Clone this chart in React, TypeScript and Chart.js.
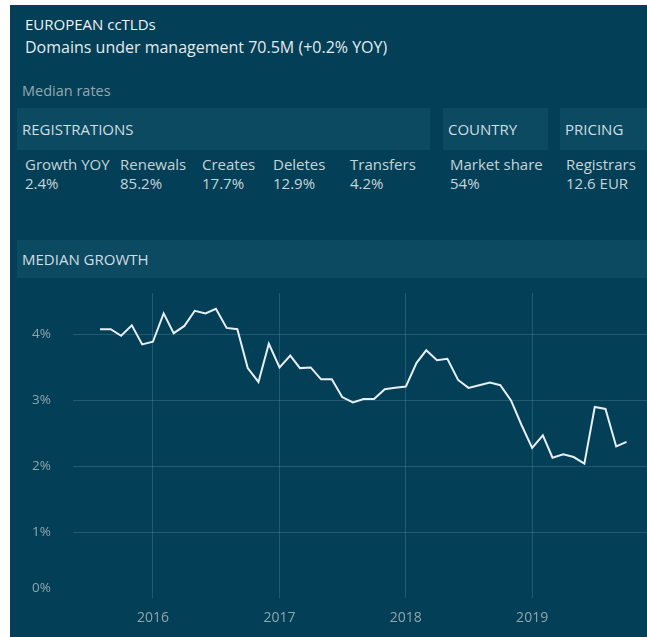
import React, { useEffect, useRef } from "react";
import { Chart, registerables } from "chart.js";

Chart.register(...registerables);

// ---- data ----
const months = [
  "2015-08", "2015-09", "2015-10", "2015-11", "2015-12",
  "2016-01", "2016-02", "2016-03", "2016-04", "2016-05", "2016-06",
  "2016-07", "2016-08", "2016-09", "2016-10", "2016-11", "2016-12",
  "2017-01", "2017-02", "2017-03", "2017-04", "2017-05", "2017-06",
  "2017-07", "2017-08", "2017-09", "2017-10", "2017-11", "2017-12",
  "2018-01", "2018-02", "2018-03", "2018-04", "2018-05", "2018-06",
  "2018-07", "2018-08", "2018-09", "2018-10", "2018-11", "2018-12",
  "2019-01", "2019-02", "2019-03", "2019-04", "2019-05", "2019-06",
  "2019-07", "2019-08", "2019-09", "2019-10",
];
const medianGrowth = [
  4.08, 4.08, 3.98, 4.14, 3.85,
  3.89, 4.32, 4.02, 4.13, 4.36, 4.32,
  4.39, 4.1, 4.08, 3.49, 3.28, 3.86,
  3.5, 3.68, 3.49, 3.5, 3.32, 3.32,
  3.05, 2.97, 3.02, 3.02, 3.17, 3.19,
  3.21, 3.57, 3.76, 3.61, 3.63, 3.31,
  3.19, 3.23, 3.27, 3.23, 3.0, 2.63,
  2.28, 2.47, 2.13, 2.18, 2.14, 2.04,
  2.9, 2.87, 2.3, 2.37,
];
const yTicks = [0, 1, 2, 3, 4];
const yearTicks = [2016, 2017, 2018, 2019];
const xStart = "2015-05-15";
const xEnd = "2019-11-29";
const yMax = 4.63;

const titleText = "EUROPEAN ccTLDs";
const subtitleText = "Domains under management 70.5M (+0.2% YOY)";
const medianRatesText = "Median rates";
const sectionHeaders = ["REGISTRATIONS", "COUNTRY", "PRICING"];
const kpiLabels = ["Growth YOY", "Renewals", "Creates", "Deletes", "Transfers", "Market share", "Registrars"];
const kpiValues = ["2.4%", "85.2%", "17.7%", "12.9%", "4.2%", "54%", "12.6 EUR"];
const chartHeader = "MEDIAN GROWTH";

// ---- styling / layout ----
const FONT = "'Open Sans', 'Noto Sans', sans-serif";
const BG = "#033f56";
const BOX = "#0b4a61";
const kpiX = [25, 120, 202, 273, 350, 450, 566];
const headerBoxes = [
  { left: 17, width: 413 },
  { left: 443, width: 105 },
  { left: 560, width: 87 },
];
const headerTextX = [22, 448, 565];

const DAY = 86400000;
const toDay = (s: string) => {
  const [y, m, d] = s.split("-").map(Number);
  return Date.UTC(y, m - 1, d || 1) / DAY;
};

const labelPlugin = {
  id: "customLabels",
  afterDraw(chart: any) {
    const ctx = chart.ctx;
    const xs = chart.scales.x;
    const ys = chart.scales.y;
    ctx.save();
    ctx.font = `13.5px ${FONT}`;
    ctx.fillStyle = "#8fa6af";
    ctx.textBaseline = "middle";
    ctx.textAlign = "right";
    yTicks.forEach((v) => {
      let py = ys.getPixelForValue(v);
      if (v === 0) py -= 10;
      ctx.fillText(`${v}%`, xs.left - 22, py);
    });
    ctx.textAlign = "center";
    ctx.font = `14px ${FONT}`;
    yearTicks.forEach((yr) => {
      const px = xs.getPixelForValue(Date.UTC(yr, 0, 1) / DAY);
      ctx.fillText(String(yr), px, ys.bottom + 20);
    });
    ctx.restore();
  },
};

export default function App() {
  const canvasRef = useRef<HTMLCanvasElement | null>(null);

  useEffect(() => {
    if (!canvasRef.current) return;
    const data = months.map((m, i) => ({ x: toDay(m), y: medianGrowth[i] }));
    const chart = new Chart(canvasRef.current, {
      type: "line",
      data: {
        datasets: [
          {
            data,
            borderColor: "#e8eff2",
            borderWidth: 2,
            pointRadius: 0,
            tension: 0,
            fill: false,
          },
        ],
      },
      options: {
        animation: false,
        responsive: false,
        devicePixelRatio: 1,
        layout: { padding: { left: 63, top: 13, right: 0, bottom: 39 } },
        plugins: { legend: { display: false }, tooltip: { enabled: false } },
        scales: {
          x: {
            type: "linear",
            min: toDay(xStart),
            max: toDay(xEnd),
            afterBuildTicks: (scale: any) => {
              scale.ticks = yearTicks.map((yr) => ({ value: Date.UTC(yr, 0, 1) / DAY }));
            },
            ticks: { display: false },
            grid: { color: "rgba(160,200,215,0.2)", lineWidth: 1, drawTicks: false },
            border: { display: false },
          },
          y: {
            type: "linear",
            min: 0,
            max: yMax,
            afterBuildTicks: (scale: any) => {
              scale.ticks = yTicks.map((v) => ({ value: v }));
            },
            ticks: { display: false },
            grid: {
              color: (c: any) => (c.tick && c.tick.value === 0 ? "rgba(0,0,0,0)" : "rgba(160,200,215,0.2)"),
              lineWidth: 1,
              drawTicks: false,
            },
            border: { display: false },
          },
        },
      },
      plugins: [labelPlugin],
    });
    return () => chart.destroy();
  }, []);

  const text = (content: string, left: number, centerY: number, size: number, color: string, key?: string) => (
    <div
      key={key}
      style={{
        position: "absolute",
        left,
        top: centerY - 10,
        height: 20,
        lineHeight: "20px",
        fontSize: size,
        color,
        whiteSpace: "nowrap",
        fontFamily: FONT,
      }}
    >
      {content}
    </div>
  );

  return (
    <div style={{ position: "absolute", left: 0, top: 0, width: 647, height: 637, overflow: "hidden", background: "#fff" }}>
      <div style={{ position: "absolute", left: 10, top: 5, right: 0, bottom: 0, background: BG }} />
      {text(titleText, 25, 24, 15, "#eef3f5")}
      {text(subtitleText, 25, 47, 16, "#e3ebee")}
      {text(medianRatesText, 22, 91, 14.5, "#93a9b2")}
      {headerBoxes.map((b, i) => (
        <div key={"hb" + i} style={{ position: "absolute", left: b.left, top: 108, width: b.width, height: 42, background: BOX }} />
      ))}
      {sectionHeaders.map((h, i) => text(h, headerTextX[i], 129, 15, "#d2dde2", "sh" + i))}
      {kpiLabels.map((l, i) => text(l, kpiX[i], 164, 15, "#c6d4d9", "kl" + i))}
      {kpiValues.map((v, i) => text(v, kpiX[i], 183, 15, "#c6d4d9", "kv" + i))}
      <div style={{ position: "absolute", left: 17, top: 240, width: 630, height: 38, background: BOX }} />
      {text(chartHeader, 22, 259, 15, "#d2dde2")}
      <canvas
        ref={canvasRef}
        width={637}
        height={357}
        style={{ position: "absolute", left: 10, top: 280, width: 637, height: 357 }}
      />
    </div>
  );
}
